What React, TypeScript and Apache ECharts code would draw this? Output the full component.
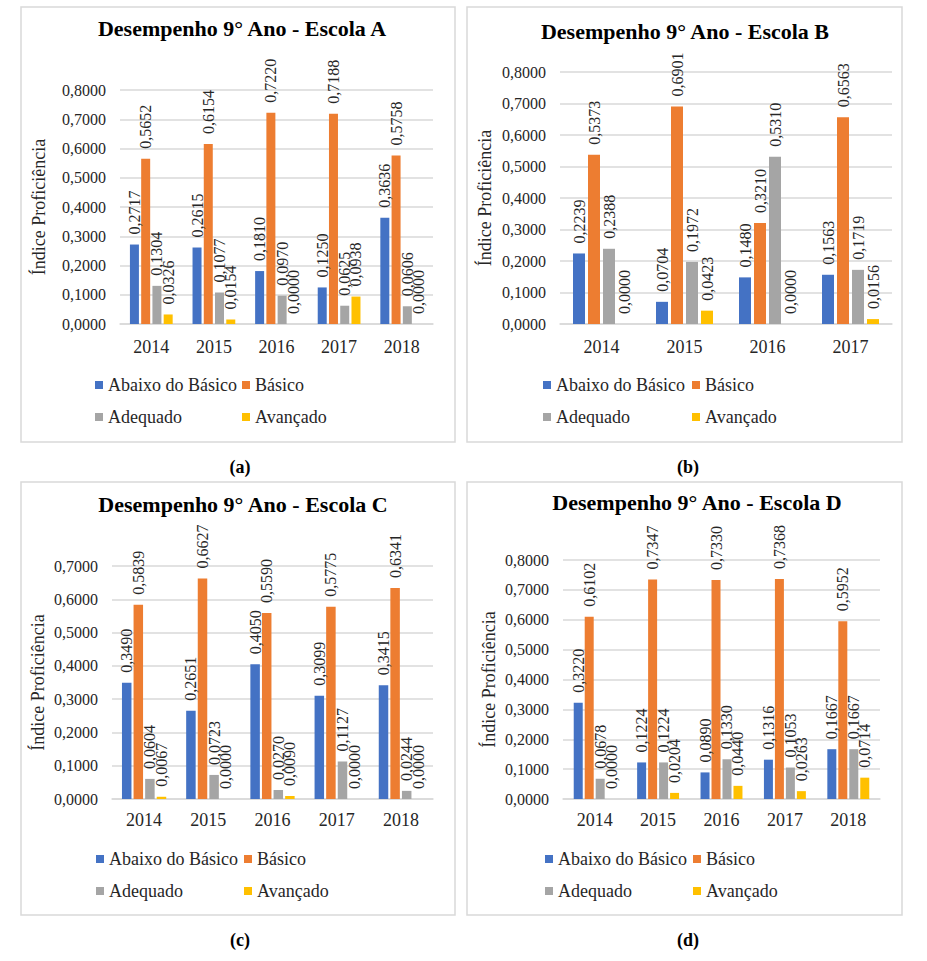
import React, { useEffect, useRef } from 'react';
import * as echarts from 'echarts';

// ---- Data ----
const seriesNames = ['Abaixo do Básico', 'Básico', 'Adequado', 'Avançado'];
const seriesColors = ['#4472C4', '#ED7D31', '#A5A5A5', '#FFC000'];

const yearsA = ['2014', '2015', '2016', '2017', '2018'];
const abaixoA = [0.2717, 0.2615, 0.181, 0.125, 0.3636];
const basicoA = [0.5652, 0.6154, 0.722, 0.7188, 0.5758];
const adequadoA = [0.1304, 0.1077, 0.097, 0.0625, 0.0606];
const avancadoA = [0.0326, 0.0154, 0.0, 0.0938, 0.0];

const yearsB = ['2014', '2015', '2016', '2017'];
const abaixoB = [0.2239, 0.0704, 0.148, 0.1563];
const basicoB = [0.5373, 0.6901, 0.321, 0.6563];
const adequadoB = [0.2388, 0.1972, 0.531, 0.1719];
const avancadoB = [0.0, 0.0423, 0.0, 0.0156];

const yearsC = ['2014', '2015', '2016', '2017', '2018'];
const abaixoC = [0.349, 0.2651, 0.405, 0.3099, 0.3415];
const basicoC = [0.5839, 0.6627, 0.559, 0.5775, 0.6341];
const adequadoC = [0.0604, 0.0723, 0.027, 0.1127, 0.0244];
const avancadoC = [0.0067, 0.0, 0.009, 0.0, 0.0];

const yearsD = ['2014', '2015', '2016', '2017', '2018'];
const abaixoD = [0.322, 0.1224, 0.089, 0.1316, 0.1667];
const basicoD = [0.6102, 0.7347, 0.733, 0.7368, 0.5952];
const adequadoD = [0.0678, 0.1224, 0.133, 0.1053, 0.1667];
const avancadoD = [0.0, 0.0204, 0.044, 0.0263, 0.0714];

const titles = [
  'Desempenho 9° Ano - Escola A',
  'Desempenho 9° Ano - Escola B',
  'Desempenho 9° Ano - Escola C',
  'Desempenho 9° Ano - Escola D',
];
const captions = ['(a)', '(b)', '(c)', '(d)'];
const yAxisName = 'Índice Proficiência';
const yMax = [0.8, 0.8, 0.7, 0.8];

const FONT = 'Liberation Serif';
const TEXT = '#262626';
const GRID = '#d9d9d9';

const fmt = (v: number) => Number(v).toFixed(4).replace('.', ',');

// ---- Layout ----
const layouts = [
  { cats: yearsA, data: [abaixoA, basicoA, adequadoA, avancadoA], grid: { left: 120, top: 90, width: 313, height: 234 }, barWidth: 9, barGap: '25%', titleX: 242, titleY: 29, nameGap: 72, legX: [95, 242], legY: 376, xMargin: 14, box: [21, 7, 434, 435], cap: [240, 467] },
  { cats: yearsB, data: [abaixoB, basicoB, adequadoB, avancadoB], grid: { left: 560, top: 72, width: 332, height: 252 }, barWidth: 12, barGap: '25%', titleX: 685, titleY: 32, nameGap: 66, legX: [543, 692], legY: 376, xMargin: 14, box: [467, 7, 435, 435], cap: [688, 467] },
  { cats: yearsC, data: [abaixoC, basicoC, adequadoC, avancadoC], grid: { left: 112, top: 566, width: 321, height: 233 }, barWidth: 9.5, barGap: '22%', titleX: 243, titleY: 505, nameGap: 65, legX: [96, 244], legY: 850, xMargin: 12, box: [21, 482, 434, 433], cap: [240, 940] },
  { cats: yearsD, data: [abaixoD, basicoD, adequadoD, avancadoD], grid: { left: 563, top: 560, width: 317, height: 239 }, barWidth: 9, barGap: '22%', titleX: 697, titleY: 503, nameGap: 65, legX: [545, 693], legY: 850, xMargin: 12, box: [467, 482, 435, 433], cap: [688, 940] },
];

function buildOption() {
  const grid: any[] = [];
  const xAxis: any[] = [];
  const yAxis: any[] = [];
  const series: any[] = [];
  const title: any[] = [];
  const legend: any[] = [];
  const graphic: any[] = [];

  layouts.forEach((L, i) => {
    grid.push({ ...L.grid, containLabel: false });
    xAxis.push({
      type: 'category',
      gridIndex: i,
      data: L.cats,
      axisLine: { show: true, lineStyle: { color: GRID, width: 1.5 } },
      axisTick: { show: false },
      axisLabel: { fontSize: 18, fontFamily: FONT, color: TEXT, margin: L.xMargin },
    });
    yAxis.push({
      type: 'value',
      gridIndex: i,
      min: 0,
      max: yMax[i],
      interval: 0.1,
      axisLine: { show: false },
      axisTick: { show: false },
      axisLabel: { formatter: (v: number) => fmt(v), fontSize: 16, fontFamily: FONT, color: TEXT, margin: 14 },
      splitLine: { lineStyle: { color: GRID, width: 1.5 } },
      name: yAxisName,
      nameLocation: 'middle',
      nameGap: L.nameGap,
      nameTextStyle: { fontSize: 18, fontFamily: FONT, color: TEXT },
    });
    L.data.forEach((d, j) => {
      series.push({
        type: 'bar',
        name: seriesNames[j],
        xAxisIndex: i,
        yAxisIndex: i,
        data: d,
        barWidth: L.barWidth,
        barGap: L.barGap,
        itemStyle: { color: seriesColors[j] },
        label: {
          show: true,
          position: 'top',
          rotate: 90,
          align: 'left',
          verticalAlign: 'middle',
          distance: 10,
          formatter: (p: any) => fmt(p.value),
          fontSize: 16,
          fontFamily: FONT,
          color: TEXT,
        },
      });
    });
    title.push({
      text: titles[i],
      left: L.titleX,
      top: L.titleY - 12,
      padding: 0,
      textAlign: 'center',
      textStyle: { fontSize: 22, fontWeight: 'bold', fontFamily: FONT, color: '#000' },
    });
    const legCols = [
      [seriesNames[0], seriesNames[2]],
      [seriesNames[1], seriesNames[3]],
    ];
    legCols.forEach((names, c) => {
      legend.push({
        data: names,
        orient: 'vertical',
        left: L.legX[c],
        top: L.legY,
        padding: 0,
        itemWidth: 8,
        itemHeight: 8,
        itemGap: 14,
        itemTextGap: 5,
        icon: 'rect',
        selectedMode: false,
        textStyle: { fontSize: 18, fontFamily: FONT, color: TEXT, lineHeight: 18 },
      });
    });
    graphic.push({
      type: 'rect',
      shape: { x: L.box[0], y: L.box[1], width: L.box[2], height: L.box[3] },
      style: { fill: 'none', stroke: GRID, lineWidth: 1.5 },
      z: -10,
      silent: true,
    });
    graphic.push({
      type: 'text',
      x: L.cap[0],
      y: L.cap[1],
      style: {
        text: captions[i],
        fontSize: 18,
        fontWeight: 'bold',
        fontFamily: FONT,
        fill: '#000',
        textAlign: 'center',
        textVerticalAlign: 'middle',
        align: 'center',
        verticalAlign: 'middle',
      },
    });
  });

  return {
    animation: false,
    backgroundColor: '#fff',
    title,
    legend,
    grid,
    xAxis,
    yAxis,
    series,
    graphic,
  };
}

export default function App() {
  const ref = useRef<HTMLDivElement>(null);
  useEffect(() => {
    if (!ref.current) return;
    const chart = echarts.init(ref.current, undefined, { renderer: 'svg' });
    chart.setOption(buildOption() as any);
    return () => chart.dispose();
  }, []);
  return (
    <div
      ref={ref}
      style={{ position: 'absolute', left: 0, top: 0, width: 927, height: 961, background: '#fff' }}
    />
  );
}
